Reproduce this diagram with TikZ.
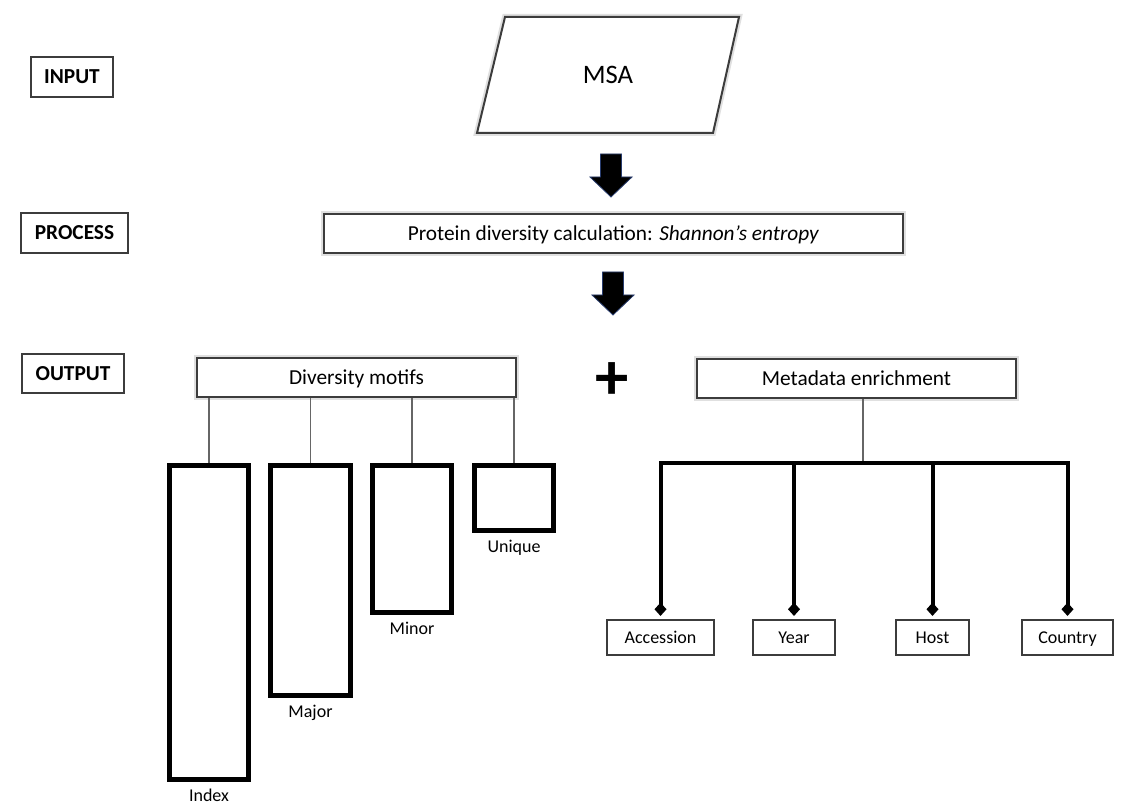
\documentclass[tikz,border=0pt]{standalone}
\usepackage{fontspec}
\setmainfont{Carlito}
\usepackage{tikz}
\usetikzlibrary{arrows.meta,positioning}
\usepackage{xcolor}

\definecolor{boxline}{RGB}{60,60,60}
\definecolor{arrowedge}{RGB}{40,60,110}
\newdimen\pxu \pxu=0.75pt

\tikzset{
  glow/.style={preaction={draw=black!12,line width=4.5pt}},
  stagebox/.style={draw=boxline,line width=1.5pt,fill=white,inner sep=0pt,
    text height=12pt,text depth=2pt,font=\fontsize{16}{19}\selectfont\bfseries},
  mainbox/.style={glow,draw=boxline,line width=1.5pt,fill=white,inner sep=0pt,
    text height=13pt,text depth=2pt,font=\fontsize{16}{19}\selectfont},
  motifbar/.style={draw=black,line width=4pt,inner sep=0pt},
  leafbox/.style={draw=boxline,line width=1.1pt,inner sep=0pt,
    text height=11pt,text depth=2pt,font=\fontsize{13.5}{16}\selectfont},
  barlabel/.style={inner sep=1pt,text height=9.5pt,text depth=2.5pt,
    font=\fontsize{13.5}{16}\selectfont},
  thinline/.style={draw=black!60,line width=0.8pt},
  busline/.style={draw=black,line width=3pt},
  blockdown/.pic={
    \filldraw[fill=black,draw=arrowedge,line width=0.6pt]
      (-10.5,0) -- (10.5,0) -- (10.5,23) -- (21,23) -- (0,43) -- (-21,23) -- (-10.5,23) -- cycle;
  }
}

\begin{document}
\begin{tikzpicture}[x=0.75pt,y=-0.75pt]
  \useasboundingbox (0,0) rectangle (1123,812);

  % stage labels
  \node[stagebox,minimum width=82\pxu,minimum height=40\pxu] (inp) at (72,77) {INPUT};
  \node[stagebox,minimum width=107\pxu,minimum height=40\pxu] (prc) at (74.5,233) {PROCESS};
  \node[stagebox,minimum width=102\pxu,minimum height=39\pxu] (outp) at (73,373.5) {OUTPUT};

  % input
  \filldraw[glow,fill=white,draw=boxline,line width=1.5pt]
    (477,133) -- (505,17) -- (739,17) -- (713,133) -- cycle;
  \node[font=\fontsize{20}{24}\selectfont] (msa) at (608,75) {MSA};

  \pic at (611,154) {blockdown};

  % process
  \node[mainbox,minimum width=579\pxu,minimum height=39\pxu] (calc) at (613.5,233.5)
    {Protein diversity calculation: \textit{Shannon’s entropy}};

  \pic at (613,272) {blockdown};

  % output
  \node[mainbox,minimum width=319\pxu,minimum height=39\pxu] (dm) at (356.5,377.5) {Diversity motifs};
  \node[font=\fontsize{50}{50}\selectfont\bfseries] (plus) at (612,381) {+};
  \node[mainbox,minimum width=319\pxu,minimum height=39\pxu] (meta) at (856.5,378.5) {Metadata enrichment};

  % motif bars
  \node[motifbar,minimum width=79\pxu,minimum height=314\pxu] (idx) at (209,622.5) {};
  \node[motifbar,minimum width=80\pxu,minimum height=230\pxu] (maj) at (310.5,580.5) {};
  \node[motifbar,minimum width=79\pxu,minimum height=147\pxu] (mnr) at (412,539) {};
  \node[motifbar,minimum width=79\pxu,minimum height=65\pxu] (unq) at (514,498) {};

  \node[barlabel,below=4pt of idx] (idxl) {Index};
  \node[barlabel,below=4pt of maj] (majl) {Major};
  \node[barlabel,below=4pt of mnr] (mnrl) {Minor};
  \node[barlabel,below=4pt of unq] (unql) {Unique};

  \foreach \b in {idx,maj,mnr,unq}
    \draw[thinline] (dm.south -| \b.north) -- (\b.north);

  % metadata
  \node[leafbox,minimum width=107\pxu,minimum height=35\pxu] (acc) at (660.5,637.5) {Accession};
  \node[leafbox,minimum width=82\pxu,minimum height=35\pxu] (yr) at (794,637.5) {Year};
  \node[leafbox,minimum width=73\pxu,minimum height=35\pxu] (hst) at (932.5,637.5) {Host};
  \node[leafbox,minimum width=91\pxu,minimum height=35\pxu] (cty) at (1067.5,637.5) {Country};

  \coordinate (bus) at (863,463);
  \draw[thinline] (meta.south -| bus) -- (bus);
  \draw[busline,line cap=rect] (acc.north |- bus) -- (cty.north |- bus);
  \foreach \n in {acc,yr,hst,cty}
    \draw[busline,-{Diamond[length=10pt,width=9pt]}] (\n.north |- bus) -- ([yshift=2.5pt]\n.north);
\end{tikzpicture}
\end{document}
